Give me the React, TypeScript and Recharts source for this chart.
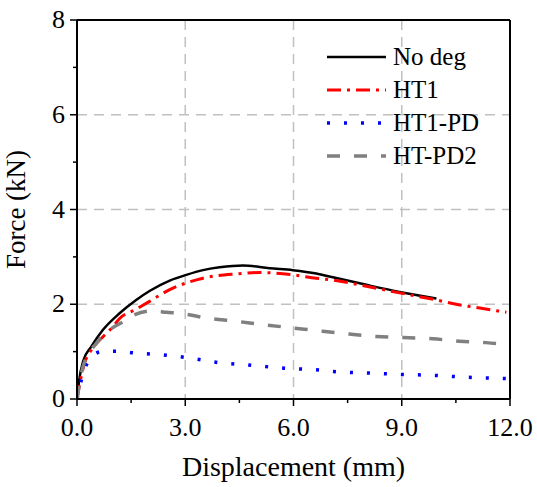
import React from 'react'
import { LineChart, Line, XAxis, YAxis, CartesianGrid, ReferenceLine, Legend } from 'recharts'

const FONT = 'Liberation Serif'

// force–displacement curves, [displacement (mm), force (kN)]
const noDeg = [
  [0, 0], [0.06, 0.4], [0.17, 0.8], [0.4, 1.11], [0.72, 1.46], [1.18, 1.81], [1.64, 2.09],
  [2.01, 2.28], [2.57, 2.5], [3.03, 2.62], [3.49, 2.72], [3.95, 2.78], [4.6, 2.82], [5.34, 2.76],
  [5.98, 2.72], [6.63, 2.65], [7.09, 2.57], [8.02, 2.41], [8.94, 2.26], [9.96, 2.12]
]
const ht1 = [
  [0, 0], [0.07, 0.3], [0.21, 0.76], [0.4, 1.04], [0.7, 1.3], [1.0, 1.53], [1.18, 1.7],
  [1.6, 1.88], [2.01, 2.06], [2.57, 2.31], [3.03, 2.45], [3.49, 2.55], [4.42, 2.64], [5.06, 2.67],
  [5.98, 2.62], [6.63, 2.55], [7.09, 2.51], [8.02, 2.38], [8.94, 2.24], [9.96, 2.09], [10.51, 2.0],
  [11.16, 1.92], [11.9, 1.83]
]
const ht1Pd = [
  [0, 0], [0.12, 0.4], [0.26, 0.72], [0.45, 0.92], [0.68, 1.0], [1.14, 1.01], [1.6, 0.97],
  [2.06, 0.95], [2.52, 0.92], [2.98, 0.88], [3.9, 0.77], [4.83, 0.71], [5.75, 0.65], [6.72, 0.61],
  [7.09, 0.58], [8.02, 0.55], [8.94, 0.52], [9.86, 0.5], [10.79, 0.46], [11.9, 0.43]
]
const htPd2 = [
  [0, 0], [0.17, 0.69], [0.54, 1.18], [0.91, 1.46], [1.37, 1.67], [1.6, 1.78], [2.1, 1.86],
  [2.48, 1.83], [2.85, 1.81], [3.58, 1.71], [4.42, 1.64], [5.15, 1.57], [5.98, 1.5], [6.81, 1.43],
  [7.55, 1.37], [8.29, 1.32], [9.03, 1.3], [9.86, 1.27], [10.6, 1.22], [11.34, 1.19], [12.0, 1.14]
]

const xTicks = [0, 1.5, 3, 4.5, 6, 7.5, 9, 10.5, 12]
const xMajor = [0, 3, 6, 9, 12]
const yTicks = [0, 1, 2, 3, 4, 5, 6, 7, 8]
const yMajor = [0, 2, 4, 6, 8]

const toPoints = (rows: number[][]) => rows.map(([x, y]) => ({ x, y }))

const series = [
  { name: 'No deg', data: toPoints(noDeg), stroke: '#000000', width: 2.5, dash: undefined },
  { name: 'HT1', data: toPoints(ht1), stroke: '#ff0000', width: 3, dash: '14 6 3 6' },
  { name: 'HT1-PD', data: toPoints(ht1Pd), stroke: '#0000ff', width: 3.5, dash: '3 14' },
  { name: 'HT-PD2', data: toPoints(htPd2), stroke: '#808080', width: 3.5, dash: '13 14' }
]

function XTick({ x, y, payload }: any) {
  const major = xMajor.includes(payload.value)
  return (
    <g>
      <line x1={x} x2={x} y1={y} y2={y + (major ? 7 : 4)} stroke="#000" strokeWidth={1.5} />
      {major && (
        <text x={x} y={y + 37} textAnchor="middle" fontSize={26} fontFamily={FONT} fill="#000">
          {payload.value.toFixed(1)}
        </text>
      )}
    </g>
  )
}

function YTick({ x, y, payload }: any) {
  const major = yMajor.includes(payload.value)
  return (
    <g>
      <line x1={x - (major ? 7 : 4)} x2={x} y1={y} y2={y} stroke="#000" strokeWidth={1.5} />
      {major && (
        <text x={x - 12} y={y + 8} textAnchor="end" fontSize={26} fontFamily={FONT} fill="#000">
          {payload.value}
        </text>
      )}
    </g>
  )
}

function LegendBox() {
  return (
    <svg width={200} height={140} style={{ display: 'block' }}>
      {series.map((s, i) => {
        const cy = 19 + i * 33
        return (
          <g key={s.name}>
            <line x1={9} x2={68} y1={cy} y2={cy} stroke={s.stroke} strokeWidth={s.width} strokeDasharray={s.dash} />
            <text x={75} y={cy + 8} fontSize={25} fontFamily={FONT} fill="#000">{s.name}</text>
          </g>
        )
      })}
    </svg>
  )
}

export default function App() {
  return (
    <div style={{ position: 'absolute', left: 0, top: 0, background: '#fff' }}>
      <LineChart width={537} height={487} margin={{ top: 20, right: 27, bottom: 0, left: 0 }}>
        <CartesianGrid
          horizontalValues={[2, 4, 6]}
          verticalValues={[3, 6, 9]}
          stroke="#c0c0c0"
          strokeWidth={1.5}
          strokeDasharray="10 7"
        />
        <XAxis
          type="number"
          dataKey="x"
          domain={[0, 12]}
          ticks={xTicks}
          interval={0}
          height={88}
          tickSize={0}
          tickMargin={0}
          tickLine={false}
          tick={<XTick />}
          axisLine={{ stroke: '#000', strokeWidth: 2 }}
          allowDataOverflow
          label={({ viewBox }: any) => (
            <text x={viewBox.x + viewBox.width / 2} y={viewBox.y + 77} textAnchor="middle" fontSize={28} fontFamily={FONT} fill="#000">
              Displacement (mm)
            </text>
          )}
        />
        <YAxis
          type="number"
          domain={[0, 8]}
          ticks={yTicks}
          interval={0}
          width={77}
          tickSize={0}
          tickMargin={0}
          tickLine={false}
          tick={<YTick />}
          axisLine={{ stroke: '#000', strokeWidth: 2 }}
          allowDataOverflow
          label={({ viewBox }: any) => {
            const cy = viewBox.y + viewBox.height / 2
            return (
              <text x={25} y={cy} transform={`rotate(-90, 25, ${cy})`} textAnchor="middle" fontSize={27} fontFamily={FONT} fill="#000">
                Force (kN)
              </text>
            )
          }}
        />
        <ReferenceLine y={8} stroke="#000" strokeWidth={2} />
        <ReferenceLine x={12} stroke="#000" strokeWidth={2} />
        {series.map((s) => (
          <Line
            key={s.name}
            name={s.name}
            data={s.data}
            dataKey="y"
            type="monotone"
            stroke={s.stroke}
            strokeWidth={s.width}
            strokeDasharray={s.dash}
            dot={false}
            activeDot={false}
            isAnimationActive={false}
          />
        ))}
        <Legend
          layout="vertical"
          align="center"
          verticalAlign="middle"
          content={() => <LegendBox />}
          wrapperStyle={{ left: 318, top: 38, width: 200 }}
        />
      </LineChart>
    </div>
  )
}
